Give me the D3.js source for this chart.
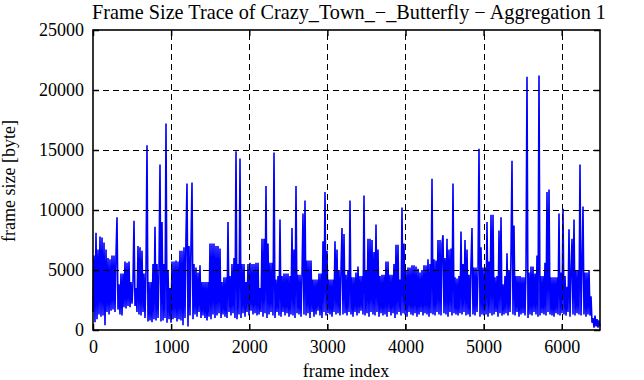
<!DOCTYPE html>
<html><head><meta charset="utf-8">
<script src="https://cdn.jsdelivr.net/npm/d3@7"></script>
<style>
body{margin:0;background:#fff}
svg{display:block;background:#fff}
svg text{font-family:"Liberation Serif","Times New Roman",serif !important;fill:#000}
</style>
</head><body><svg id="chart" width="644" height="380"></svg>
<script>
const chartTitle = "Frame Size Trace of Crazy_Town_\u2212_Butterfly \u2212 Aggregation 1";
const xLabel = "frame index";
const yLabel = "frame size [byte]";
const xTicks = [0, 1000, 2000, 3000, 4000, 5000, 6000];
const yTicks = [0, 5000, 10000, 15000, 20000, 25000];
const totalFrames = 6490;
const yMax = 25000;

const frameSize = [
1500,6200,650,8100,900,6700,1300,7800,1100,7700,
1200,7300,400,6700,1500,6000,1300,5900,1600,6200,
1700,6200,1500,6200,9400,1700,3800,1300,4700,1200,
4700,1900,5700,1800,5600,2000,5700,1900,4000,2200,
4000,9100,2000,3500,1500,7000,1300,6900,1200,6600,
1500,4700,1000,5000,15400,700,4000,800,4000,650,
5500,900,8600,800,5500,1000,5000,13800,700,9000,
800,5500,1000,17200,600,5000,900,3500,600,5700,
900,5700,1000,5800,700,5700,900,6600,800,6600,
400,6900,1000,7900,12200,300,7000,1200,7200,12300,
900,5500,1300,5200,1100,4800,1500,5400,1000,4000,
1200,4000,1000,4000,800,4000,1100,7200,900,7200,
1300,7200,1000,7000,1200,7000,1400,6800,1000,4000,
1300,4400,1100,4400,1000,9000,1500,4500,1200,5500,
1400,6000,1000,14900,900,5500,1300,14300,1000,5500,
1400,5500,1100,4000,1500,5500,1200,5600,1600,5500,
1300,5500,1400,5600,1200,5600,1300,3500,1500,7600,
1100,7600,1400,12000,1000,7200,1300,5600,1500,5600,
1200,14800,1000,4200,1500,4500,1200,9200,1100,4500,
1500,4700,1200,4700,1400,4700,1100,4500,1300,8500,
1200,6700,1000,12000,1400,4600,1300,4600,1100,4600,
9700,1300,10800,1200,5800,1400,5800,1000,5800,1500,
4200,1100,4200,1300,4200,1600,4700,1200,4700,1000,
7400,1500,11500,1200,6600,1400,4200,1300,4200,1100,
4200,1500,7400,1300,6700,1400,5000,1200,5000,8500,
1300,8000,1400,4600,1200,5000,1500,10800,1300,4400,
1100,4400,1500,4800,1200,5300,1400,4500,1600,4500,
1300,11200,1200,5000,1400,7600,1100,7600,1500,7500,
1300,6500,1200,8800,1500,6700,1100,4500,1400,4600,
1200,4600,1300,5700,1100,5700,1500,4600,1200,4600,
1400,5500,1000,7100,1300,7100,1500,4200,1200,10200,
1400,7200,1300,5000,1100,5200,1500,5200,1300,5400,
1200,5400,1400,5300,1100,5100,1300,4800,1500,5000,
1200,5400,1400,5400,1300,5900,1100,5500,1400,12600,
1300,5900,1200,5800,1500,7500,1300,7500,1200,7200,
7900,1400,6000,1300,7600,1100,6700,1500,6800,1200,
12200,1400,4400,1300,4300,1200,4500,1400,8200,1300,
5500,1500,7500,1200,6700,1300,4600,1100,5500,8500,
1300,5200,1200,5200,1500,4800,15100,1100,6900,1300,
5200,1200,5200,1300,9000,1100,5700,1400,9600,1200,
9600,1300,4400,1500,4500,1100,8300,1400,9400,1200,
3800,1300,4500,1400,6400,1200,5000,1500,6300,14100,
1300,8700,1200,4500,1500,4500,1100,4500,1300,4400,
1400,4400,1200,5000,21100,1000,4800,1300,5300,1200,
5300,1500,4700,1300,6200,1100,21200,1200,4500,1400,
4500,1300,5600,1200,11500,1500,11700,1300,4400,1200,
4400,1100,4400,1400,4400,1300,9700,1200,4800,1400,
10100,1300,4500,1200,3600,1500,8400,1100,4800,7600,
1300,9200,1200,5000,1400,5000,1300,13800,1200,5200,
10300,1300,4800,1100,4800,1300,5000,1200,2800,600,
1000,200,1200,300,900,200,800,300
];

const W = 644, H = 380;
const plot = {left: 93, right: 600, top: 30, bottom: 330};
const FONT = '"Liberation Serif","Times New Roman",serif';
const svg = d3.select("#chart");
svg.append("rect").attr("width", W).attr("height", H).attr("fill", "#fff");

const x = d3.scaleLinear().domain([0, totalFrames]).range([plot.left, plot.right]);
const y = d3.scaleLinear().domain([0, yMax]).range([plot.bottom, plot.top]);
const step = totalFrames / (frameSize.length - 1);

// data line
const line = d3.line().x((d, i) => x(i * step)).y(d => y(d));
svg.append("path").datum(frameSize)
  .attr("d", line).attr("fill", "none")
  .attr("stroke", "#0000ff").attr("stroke-width", 1.6)
  .attr("stroke-linejoin", "bevel");

// grid (front, dashed)
const grid = svg.append("g").attr("stroke", "#000").attr("stroke-width", 1).attr("stroke-dasharray", "6,4");
grid.selectAll(".gx").data(xTicks.filter(t => t > 0)).join("line")
  .attr("x1", d => Math.round(x(d)) + 0.5).attr("x2", d => Math.round(x(d)) + 0.5)
  .attr("y1", plot.bottom).attr("y2", plot.top);
grid.selectAll(".gy").data(yTicks.filter(t => t > 0 && t < yMax)).join("line")
  .attr("y1", d => Math.round(y(d)) + 0.5).attr("y2", d => Math.round(y(d)) + 0.5)
  .attr("x1", plot.left).attr("x2", plot.right);

// axes
const fmt = d3.format("d");
const gB = svg.append("g").attr("transform", `translate(0,${plot.bottom})`)
  .call(d3.axisBottom(x).tickValues(xTicks).tickFormat(fmt).tickSizeInner(-6).tickSizeOuter(0).tickPadding(10));
const gL = svg.append("g").attr("transform", `translate(${plot.left},0)`)
  .call(d3.axisLeft(y).tickValues(yTicks).tickFormat(fmt).tickSizeInner(-6).tickSizeOuter(0).tickPadding(9));
const gT = svg.append("g").attr("transform", `translate(0,${plot.top})`)
  .call(d3.axisTop(x).tickValues(xTicks).tickSizeInner(-6).tickSizeOuter(0).tickFormat(""));
const gR = svg.append("g").attr("transform", `translate(${plot.right},0)`)
  .call(d3.axisRight(y).tickValues(yTicks).tickSizeInner(-6).tickSizeOuter(0).tickFormat(""));
[gB, gL, gT, gR].forEach(g => {
  g.attr("font-family", FONT).attr("font-size", 18);
  g.select(".domain").remove();
  g.selectAll(".tick line").attr("stroke", "#000").attr("stroke-width", 1.5);
  g.selectAll("text").style("font-family", FONT).style("font-size", "18px").attr("fill", "#000");
});

// border
svg.append("rect").attr("x", plot.left).attr("y", plot.top)
  .attr("width", plot.right - plot.left).attr("height", plot.bottom - plot.top)
  .attr("fill", "none").attr("stroke", "#000").attr("stroke-width", 1.6);

// labels
const title = svg.append("text").attr("x", 349).attr("y", 19)
  .attr("text-anchor", "middle").style("font-family", FONT).style("font-size", "18px").text(chartTitle);
const tl = title.node().getComputedTextLength();
title.style("font-size", (18 * 514 / tl) + "px");

svg.append("text").attr("x", 346).attr("y", 377)
  .attr("text-anchor", "middle").style("font-family", FONT).style("font-size", "18px").text(xLabel);
svg.append("text").attr("transform", "translate(15,181) rotate(-90)")
  .attr("text-anchor", "middle").style("font-family", FONT).style("font-size", "18px").text(yLabel);
</script></body></html>
